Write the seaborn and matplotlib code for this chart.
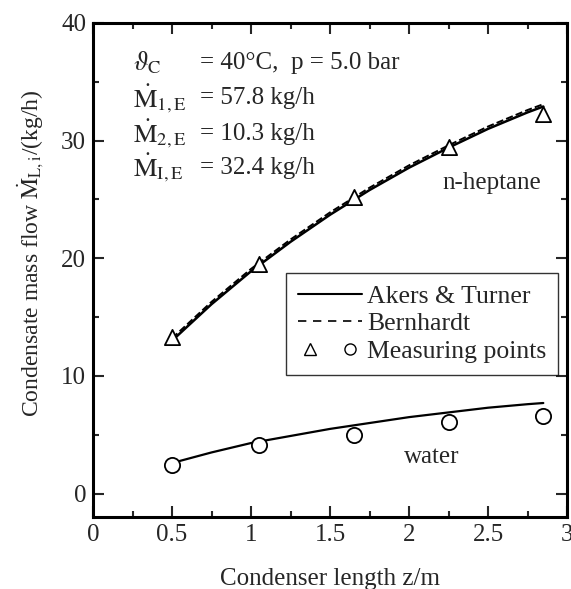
import matplotlib
matplotlib.use("Agg")
import matplotlib.pyplot as plt
import seaborn as sns
from matplotlib.lines import Line2D
from matplotlib.legend_handler import HandlerTuple
from matplotlib.ticker import MultipleLocator

# measured points
z_meas = [0.5, 1.05, 1.65, 2.25, 2.85]
heptane_meas = [13.3, 19.5, 25.2, 29.5, 32.3]
water_meas = [2.4, 4.1, 5.0, 6.1, 6.6]

# model curves (Akers & Turner / Bernhardt nearly coincide)
z_curve = [0.5, 0.75, 1.0, 1.25, 1.5, 1.75, 2.0, 2.25, 2.5, 2.75, 2.85]
heptane_akers = [13.0, 16.1, 18.9, 21.4, 23.7, 25.8, 27.7, 29.4, 31.0, 32.4, 32.9]
heptane_bern = [13.2, 16.3, 19.1, 21.6, 23.9, 26.0, 27.9, 29.6, 31.2, 32.6, 33.1]
water_akers = [2.6, 3.5, 4.3, 4.9, 5.5, 6.0, 6.5, 6.9, 7.3, 7.6, 7.7]

sns.set_style("ticks")
plt.rcParams['font.family'] = ['Liberation Serif', 'DejaVu Serif']
plt.rcParams['mathtext.fontset'] = 'stix'

fig = plt.figure(figsize=(5.71, 5.89), dpi=100)
ax = fig.add_axes([0.163, 0.122, 0.830, 0.839])

sns.lineplot(x=z_curve, y=heptane_akers, color='black', lw=1.8, ax=ax)
sns.lineplot(x=z_curve, y=heptane_bern, color='black', lw=1.4, ls='--', ax=ax)
sns.lineplot(x=z_curve, y=water_akers, color='black', lw=1.6, ax=ax)
sns.scatterplot(x=z_meas, y=heptane_meas, marker='^', s=120, facecolor='white',
                edgecolor='black', linewidth=1.3, ax=ax, zorder=3)
sns.scatterplot(x=z_meas, y=water_meas, marker='o', s=120, facecolor='white',
                edgecolor='black', linewidth=1.3, ax=ax, zorder=3)

ax.set_xlim(0, 3)
ax.set_ylim(-2, 40)
ax.xaxis.set_minor_locator(MultipleLocator(0.25))
ax.yaxis.set_major_locator(MultipleLocator(10))
ax.yaxis.set_minor_locator(MultipleLocator(5))
ax.set_xticks([0, 0.5, 1, 1.5, 2, 2.5, 3])
ax.set_xticklabels(['0', '0.5', '1', '1.5', '2', '2.5', '3'])
ax.tick_params(which='both', direction='in', top=True, right=True, width=1.5)
ax.tick_params(which='major', length=8, labelsize=18, pad=5)
ax.tick_params(which='minor', length=4)
for sp in ax.spines.values():
    sp.set_linewidth(2.2)
    sp.set_color('black')

ax.set_xlabel('Condenser length z/m', fontsize=18, labelpad=16)
ax.set_ylabel(r'Condensate mass flow $\dot{\mathrm{M}}_{\mathrm{L,i}}$/(kg/h)', fontsize=17)
ax.yaxis.set_label_coords(-0.1, 0.535)

ann_y = [36.6, 33.6, 30.6, 27.7]
ann_sym = [r'$\vartheta_{\mathrm{C}}$', r'$\dot{\mathrm{M}}_{\mathrm{1,E}}$',
           r'$\dot{\mathrm{M}}_{\mathrm{2,E}}$', r'$\dot{\mathrm{M}}_{\mathrm{I,E}}$']
ann_val = ['= 40°C,  p = 5.0 bar', '= 57.8 kg/h', '= 10.3 kg/h', '= 32.4 kg/h']
for yy, sym, val in zip(ann_y, ann_sym, ann_val):
    ax.text(0.25, yy, sym, fontsize=19, va='center')
    ax.text(0.68, yy, val, fontsize=18, va='center')
ax.text(2.21, 26.4, 'n-heptane', fontsize=18, va='center')
ax.text(1.97, 3.1, 'water', fontsize=18, va='center')

h1 = Line2D([], [], color='black', lw=1.5)
h2 = Line2D([], [], color='black', lw=1.2, ls=(0, (5, 4)))
m1 = Line2D([], [], ls='none', marker='^', mfc='white', mec='black', ms=8)
m2 = Line2D([], [], ls='none', marker='o', mfc='white', mec='black', ms=8)
leg = ax.legend([h1, h2, (m1, m2)], ['Akers & Turner', 'Bernhardt', 'Measuring points'],
                handler_map={tuple: HandlerTuple(ndivide=None, pad=0.6)},
                loc='upper left', bbox_to_anchor=(0.408, 0.494), fontsize=18.5,
                frameon=True, fancybox=False, edgecolor='black', handlelength=2.5,
                handletextpad=0.2, borderpad=0.45, labelspacing=0.19, borderaxespad=0)
leg.get_frame().set_linewidth(1.0)
fr = leg.get_frame()
fr.set_width(fr.get_width() - 8)

fig.savefig('out.png', dpi=100)
